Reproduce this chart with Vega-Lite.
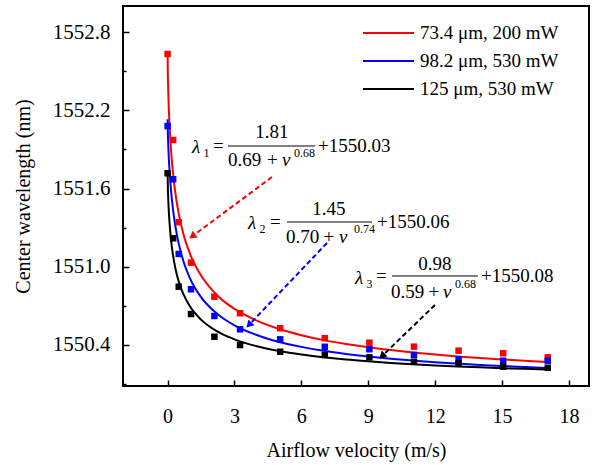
{
  "$schema": "https://vega.github.io/schema/vega-lite/v6.json",
  "width": 466,
  "height": 380,
  "autosize": "none",
  "padding": {"left": 123, "top": 6, "right": 5, "bottom": 79},
  "background": "white",
  "config": {"view": {"stroke": "black", "strokeWidth": 2}, "font": "Liberation Serif"},
  "datasets": {
    "curves": [
      {"s": "73.4 μm, 200 mW", "v": 0, "y": 1552.653}, {"s": "73.4 μm, 200 mW", "v": 0.01, "y": 1552.497}, {"s": "73.4 μm, 200 mW", "v": 0.03, "y": 1552.344}, {"s": "73.4 μm, 200 mW", "v": 0.06, "y": 1552.191}, {"s": "73.4 μm, 200 mW", "v": 0.1, "y": 1552.044}, {"s": "73.4 μm, 200 mW", "v": 0.15, "y": 1551.905}, {"s": "73.4 μm, 200 mW", "v": 0.2, "y": 1551.796}, {"s": "73.4 μm, 200 mW", "v": 0.3, "y": 1551.630}, {"s": "73.4 μm, 200 mW", "v": 0.4, "y": 1551.506}, {"s": "73.4 μm, 200 mW", "v": 0.5, "y": 1551.407}, {"s": "73.4 μm, 200 mW", "v": 0.7, "y": 1551.257}, {"s": "73.4 μm, 200 mW", "v": 1, "y": 1551.101}, {"s": "73.4 μm, 200 mW", "v": 1.5, "y": 1550.932}, {"s": "73.4 μm, 200 mW", "v": 2, "y": 1550.820}, {"s": "73.4 μm, 200 mW", "v": 2.5, "y": 1550.738}, {"s": "73.4 μm, 200 mW", "v": 3, "y": 1550.676}, {"s": "73.4 μm, 200 mW", "v": 4, "y": 1550.586}, {"s": "73.4 μm, 200 mW", "v": 5, "y": 1550.522}, {"s": "73.4 μm, 200 mW", "v": 6, "y": 1550.475}, {"s": "73.4 μm, 200 mW", "v": 7, "y": 1550.437}, {"s": "73.4 μm, 200 mW", "v": 8, "y": 1550.407}, {"s": "73.4 μm, 200 mW", "v": 9, "y": 1550.382}, {"s": "73.4 μm, 200 mW", "v": 10, "y": 1550.361}, {"s": "73.4 μm, 200 mW", "v": 11, "y": 1550.342}, {"s": "73.4 μm, 200 mW", "v": 12, "y": 1550.326}, {"s": "73.4 μm, 200 mW", "v": 13, "y": 1550.312}, {"s": "73.4 μm, 200 mW", "v": 14, "y": 1550.300}, {"s": "73.4 μm, 200 mW", "v": 15, "y": 1550.289}, {"s": "73.4 μm, 200 mW", "v": 16, "y": 1550.279}, {"s": "73.4 μm, 200 mW", "v": 17, "y": 1550.270},
      {"s": "98.2 μm, 530 mW", "v": 0, "y": 1552.131}, {"s": "98.2 μm, 530 mW", "v": 0.01, "y": 1552.038}, {"s": "98.2 μm, 530 mW", "v": 0.03, "y": 1551.932}, {"s": "98.2 μm, 530 mW", "v": 0.06, "y": 1551.818}, {"s": "98.2 μm, 530 mW", "v": 0.1, "y": 1551.704}, {"s": "98.2 μm, 530 mW", "v": 0.15, "y": 1551.593}, {"s": "98.2 μm, 530 mW", "v": 0.2, "y": 1551.504}, {"s": "98.2 μm, 530 mW", "v": 0.3, "y": 1551.366}, {"s": "98.2 μm, 530 mW", "v": 0.4, "y": 1551.261}, {"s": "98.2 μm, 530 mW", "v": 0.5, "y": 1551.177}, {"s": "98.2 μm, 530 mW", "v": 0.7, "y": 1551.048}, {"s": "98.2 μm, 530 mW", "v": 1, "y": 1550.913}, {"s": "98.2 μm, 530 mW", "v": 1.5, "y": 1550.767}, {"s": "98.2 μm, 530 mW", "v": 2, "y": 1550.672}, {"s": "98.2 μm, 530 mW", "v": 2.5, "y": 1550.603}, {"s": "98.2 μm, 530 mW", "v": 3, "y": 1550.551}, {"s": "98.2 μm, 530 mW", "v": 4, "y": 1550.476}, {"s": "98.2 μm, 530 mW", "v": 5, "y": 1550.423}, {"s": "98.2 μm, 530 mW", "v": 6, "y": 1550.385}, {"s": "98.2 μm, 530 mW", "v": 7, "y": 1550.355}, {"s": "98.2 μm, 530 mW", "v": 8, "y": 1550.331}, {"s": "98.2 μm, 530 mW", "v": 9, "y": 1550.311}, {"s": "98.2 μm, 530 mW", "v": 10, "y": 1550.294}, {"s": "98.2 μm, 530 mW", "v": 11, "y": 1550.280}, {"s": "98.2 μm, 530 mW", "v": 12, "y": 1550.267}, {"s": "98.2 μm, 530 mW", "v": 13, "y": 1550.257}, {"s": "98.2 μm, 530 mW", "v": 14, "y": 1550.247}, {"s": "98.2 μm, 530 mW", "v": 15, "y": 1550.239}, {"s": "98.2 μm, 530 mW", "v": 16, "y": 1550.231}, {"s": "98.2 μm, 530 mW", "v": 17, "y": 1550.224},
      {"s": "125 μm, 530 mW", "v": 0, "y": 1551.741}, {"s": "125 μm, 530 mW", "v": 0.01, "y": 1551.627}, {"s": "125 μm, 530 mW", "v": 0.03, "y": 1551.517}, {"s": "125 μm, 530 mW", "v": 0.06, "y": 1551.409}, {"s": "125 μm, 530 mW", "v": 0.1, "y": 1551.307}, {"s": "125 μm, 530 mW", "v": 0.15, "y": 1551.213}, {"s": "125 μm, 530 mW", "v": 0.2, "y": 1551.140}, {"s": "125 μm, 530 mW", "v": 0.3, "y": 1551.031}, {"s": "125 μm, 530 mW", "v": 0.4, "y": 1550.950}, {"s": "125 μm, 530 mW", "v": 0.5, "y": 1550.887}, {"s": "125 μm, 530 mW", "v": 0.7, "y": 1550.793}, {"s": "125 μm, 530 mW", "v": 1, "y": 1550.696}, {"s": "125 μm, 530 mW", "v": 1.5, "y": 1550.594}, {"s": "125 μm, 530 mW", "v": 2, "y": 1550.527}, {"s": "125 μm, 530 mW", "v": 2.5, "y": 1550.479}, {"s": "125 μm, 530 mW", "v": 3, "y": 1550.443}, {"s": "125 μm, 530 mW", "v": 4, "y": 1550.390}, {"s": "125 μm, 530 mW", "v": 5, "y": 1550.354}, {"s": "125 μm, 530 mW", "v": 6, "y": 1550.327}, {"s": "125 μm, 530 mW", "v": 7, "y": 1550.306}, {"s": "125 μm, 530 mW", "v": 8, "y": 1550.288}, {"s": "125 μm, 530 mW", "v": 9, "y": 1550.274}, {"s": "125 μm, 530 mW", "v": 10, "y": 1550.262}, {"s": "125 μm, 530 mW", "v": 11, "y": 1550.252}, {"s": "125 μm, 530 mW", "v": 12, "y": 1550.243}, {"s": "125 μm, 530 mW", "v": 13, "y": 1550.235}, {"s": "125 μm, 530 mW", "v": 14, "y": 1550.228}, {"s": "125 μm, 530 mW", "v": 15, "y": 1550.222}, {"s": "125 μm, 530 mW", "v": 16, "y": 1550.217}, {"s": "125 μm, 530 mW", "v": 17, "y": 1550.211}
    ],
    "pts": [
      {"s": "73.4 μm, 200 mW", "v": 0, "y": 1552.632}, {"s": "73.4 μm, 200 mW", "v": 0.25, "y": 1551.972}, {"s": "73.4 μm, 200 mW", "v": 0.5, "y": 1551.341}, {"s": "73.4 μm, 200 mW", "v": 1.05, "y": 1551.031}, {"s": "73.4 μm, 200 mW", "v": 2.1, "y": 1550.770}, {"s": "73.4 μm, 200 mW", "v": 3.25, "y": 1550.643}, {"s": "73.4 μm, 200 mW", "v": 5.05, "y": 1550.528}, {"s": "73.4 μm, 200 mW", "v": 7.05, "y": 1550.452}, {"s": "73.4 μm, 200 mW", "v": 9.05, "y": 1550.417}, {"s": "73.4 μm, 200 mW", "v": 11.05, "y": 1550.387}, {"s": "73.4 μm, 200 mW", "v": 13.05, "y": 1550.356}, {"s": "73.4 μm, 200 mW", "v": 15.05, "y": 1550.336}, {"s": "73.4 μm, 200 mW", "v": 17.05, "y": 1550.305},
      {"s": "98.2 μm, 530 mW", "v": 0, "y": 1552.079}, {"s": "98.2 μm, 530 mW", "v": 0.25, "y": 1551.671}, {"s": "98.2 μm, 530 mW", "v": 0.5, "y": 1551.098}, {"s": "98.2 μm, 530 mW", "v": 1.05, "y": 1550.827}, {"s": "98.2 μm, 530 mW", "v": 2.1, "y": 1550.622}, {"s": "98.2 μm, 530 mW", "v": 3.25, "y": 1550.520}, {"s": "98.2 μm, 530 mW", "v": 5.05, "y": 1550.443}, {"s": "98.2 μm, 530 mW", "v": 7.05, "y": 1550.386}, {"s": "98.2 μm, 530 mW", "v": 9.05, "y": 1550.367}, {"s": "98.2 μm, 530 mW", "v": 11.05, "y": 1550.323}, {"s": "98.2 μm, 530 mW", "v": 13.05, "y": 1550.290}, {"s": "98.2 μm, 530 mW", "v": 15.05, "y": 1550.279}, {"s": "98.2 μm, 530 mW", "v": 17.05, "y": 1550.279},
      {"s": "125 μm, 530 mW", "v": 0, "y": 1551.717}, {"s": "125 μm, 530 mW", "v": 0.25, "y": 1551.218}, {"s": "125 μm, 530 mW", "v": 0.5, "y": 1550.847}, {"s": "125 μm, 530 mW", "v": 1.05, "y": 1550.637}, {"s": "125 μm, 530 mW", "v": 2.1, "y": 1550.463}, {"s": "125 μm, 530 mW", "v": 3.25, "y": 1550.399}, {"s": "125 μm, 530 mW", "v": 5.05, "y": 1550.348}, {"s": "125 μm, 530 mW", "v": 7.05, "y": 1550.323}, {"s": "125 μm, 530 mW", "v": 9.05, "y": 1550.305}, {"s": "125 μm, 530 mW", "v": 11.05, "y": 1550.271}, {"s": "125 μm, 530 mW", "v": 13.05, "y": 1550.259}, {"s": "125 μm, 530 mW", "v": 15.05, "y": 1550.233}, {"s": "125 μm, 530 mW", "v": 17.05, "y": 1550.225}
    ],
    "arrows": [
      {"s": "73.4 μm, 200 mW", "x": 4.682, "y": 1551.688, "x2": 1.148, "y2": 1551.239},
      {"s": "98.2 μm, 530 mW", "x": 7.148, "y": 1551.182, "x2": 3.686, "y2": 1550.560},
      {"s": "125 μm, 530 mW", "x": 11.991, "y": 1550.706, "x2": 9.655, "y2": 1550.321}
    ],
    "eqn": [
      {"x": 2.036, "y": 1551.880, "t": "="}, {"x": 6.744, "y": 1551.880, "t": "+1550.03"}, {"x": 2.709, "y": 1551.773, "t": "0.69"}, {"x": 4.458, "y": 1551.773, "t": "+"},
      {"x": 4.592, "y": 1551.297, "t": "="}, {"x": 9.390, "y": 1551.297, "t": "+1550.06"}, {"x": 5.309, "y": 1551.182, "t": "0.70"}, {"x": 6.990, "y": 1551.182, "t": "+"},
      {"x": 9.345, "y": 1550.883, "t": "="}, {"x": 14.054, "y": 1550.883, "t": "+1550.08"}, {"x": 10.018, "y": 1550.760, "t": "0.59"}, {"x": 11.700, "y": 1550.760, "t": "+"}
    ],
    "num": [
      {"x": 4.682, "y": 1551.987, "t": "1.81"}, {"x": 7.238, "y": 1551.397, "t": "1.45"}, {"x": 11.991, "y": 1550.975, "t": "0.98"}
    ],
    "ital": [
      {"x": 1.094, "y": 1551.872, "t": "λ"}, {"x": 5.130, "y": 1551.773, "t": "v"},
      {"x": 3.605, "y": 1551.289, "t": "λ"}, {"x": 7.686, "y": 1551.182, "t": "v"},
      {"x": 8.404, "y": 1550.867, "t": "λ"}, {"x": 12.350, "y": 1550.760, "t": "v"}
    ],
    "small": [
      {"x": 1.610, "y": 1551.842, "t": "1"}, {"x": 5.668, "y": 1551.842, "t": "0.68"},
      {"x": 4.121, "y": 1551.259, "t": "2"}, {"x": 8.359, "y": 1551.259, "t": "0.74"},
      {"x": 8.919, "y": 1550.837, "t": "3"}, {"x": 12.888, "y": 1550.837, "t": "0.68"}
    ],
    "bars": [
      {"x": 2.709, "x2": 6.610, "y": 1551.926},
      {"x": 5.355, "x2": 9.166, "y": 1551.343},
      {"x": 10.063, "x2": 13.919, "y": 1550.929}
    ]
  },
  "layer": [
    {
      "data": {"name": "curves"},
      "mark": {"type": "line", "strokeWidth": 2, "interpolate": "monotone"},
      "encoding": {
        "x": {
          "field": "v", "type": "quantitative",
          "scale": {"domain": [-2, 18.9], "nice": false, "zero": false},
          "axis": {
            "values": [0, 3, 6, 9, 12, 15, 18],
            "format": "d",
            "tickSize": -6,
            "tickColor": "black", "tickWidth": 1.5, "domain": false, "grid": false,
            "labelFont": "Liberation Serif", "labelFontSize": 20, "labelColor": "black", "labelPadding": 26, "labelFlush": false, "labelOverlap": false,
            "title": "Airflow velocity (m/s)", "titleFont": "Liberation Serif", "titleFontSize": 20, "titleFontWeight": "normal", "titleColor": "black", "titlePadding": 14
          }
        },
        "y": {
          "field": "y", "type": "quantitative",
          "scale": {"domain": [1550.085, 1553.0], "nice": false, "zero": false},
          "axis": {
            "values": [1550.1, 1550.4, 1550.7, 1551.0, 1551.3, 1551.6, 1551.9, 1552.2, 1552.5, 1552.8],
            "labelExpr": "round(datum.value*10)%6==0 ? format(datum.value, '.1f') : ''",
            "tickSize": -6,
            "tickDash": {"condition": {"test": "round(datum.value*10)%6==0", "value": [6, 0]}, "value": [3, 20]},
            "tickColor": "black", "tickWidth": 1.5, "domain": false, "grid": false,
            "labelFont": "Liberation Serif", "labelFontSize": 21, "labelColor": "black", "labelPadding": 19, "labelFlush": false, "labelOverlap": false,
            "title": "Center wavelength (nm)", "titleFont": "Liberation Serif", "titleFontSize": 20, "titleFontWeight": "normal", "titleColor": "black", "titlePadding": 19
          }
        },
        "color": {
          "field": "s", "type": "nominal",
          "scale": {"domain": ["73.4 μm, 200 mW", "98.2 μm, 530 mW", "125 μm, 530 mW"], "range": ["#ff0000", "#0000ff", "#000000"]},
          "legend": {
            "orient": "none", "legendX": 239, "legendY": 17, "title": null,
            "symbolType": "stroke", "symbolSize": 2601, "symbolStrokeWidth": 2, "clipHeight": 20,
            "labelFont": "Liberation Serif", "labelFontSize": 19, "labelColor": "black", "rowPadding": 8, "labelOffset": 5
          }
        }
      }
    },
    {
      "data": {"name": "pts"},
      "mark": {"type": "point", "shape": "square", "filled": true, "size": 42, "opacity": 1, "strokeWidth": 0},
      "encoding": {
        "x": {"field": "v", "type": "quantitative"},
        "y": {"field": "y", "type": "quantitative"},
        "fill": {
          "field": "s", "type": "nominal",
          "scale": {"domain": ["73.4 μm, 200 mW", "98.2 μm, 530 mW", "125 μm, 530 mW"], "range": ["#ff0000", "#0000ff", "#000000"]},
          "legend": null
        }
      }
    },
    {
      "data": {"name": "arrows"},
      "mark": {"type": "rule", "strokeWidth": 2, "strokeDash": [5, 3]},
      "encoding": {
        "x": {"field": "x", "type": "quantitative"},
        "y": {"field": "y", "type": "quantitative"},
        "x2": {"field": "x2"},
        "y2": {"field": "y2"},
        "stroke": {
          "field": "s", "type": "nominal",
          "scale": {"domain": ["73.4 μm, 200 mW", "98.2 μm, 530 mW", "125 μm, 530 mW"], "range": ["#ff0000", "#0000ff", "#000000"]},
          "legend": null
        }
      }
    },
    {
      "data": {"name": "arrows"},
      "transform": [{"filter": "datum.s == '73.4 μm, 200 mW'"}],
      "mark": {"type": "point", "shape": "triangle", "filled": true, "size": 70, "angle": 233, "color": "#ff0000", "opacity": 1},
      "encoding": {
        "x": {"field": "x2", "type": "quantitative"},
        "y": {"field": "y2", "type": "quantitative"}
      }
    },
    {
      "data": {"name": "arrows"},
      "transform": [{"filter": "datum.s == '98.2 μm, 530 mW'"}],
      "mark": {"type": "point", "shape": "triangle", "filled": true, "size": 70, "angle": 224, "color": "#0000ff", "opacity": 1},
      "encoding": {
        "x": {"field": "x2", "type": "quantitative"},
        "y": {"field": "y2", "type": "quantitative"}
      }
    },
    {
      "data": {"name": "arrows"},
      "transform": [{"filter": "datum.s == '125 μm, 530 mW'"}],
      "mark": {"type": "point", "shape": "triangle", "filled": true, "size": 70, "angle": 226, "color": "#000000", "opacity": 1},
      "encoding": {
        "x": {"field": "x2", "type": "quantitative"},
        "y": {"field": "y2", "type": "quantitative"}
      }
    },
    {
      "data": {"name": "bars"},
      "mark": {"type": "rule", "strokeWidth": 1, "color": "black"},
      "encoding": {
        "x": {"field": "x", "type": "quantitative"},
        "x2": {"field": "x2"},
        "y": {"field": "y", "type": "quantitative"}
      }
    },
    {
      "data": {"name": "eqn"},
      "mark": {"type": "text", "font": "Liberation Serif", "fontSize": 19, "align": "left", "baseline": "alphabetic", "color": "black"},
      "encoding": {
        "x": {"field": "x", "type": "quantitative"},
        "y": {"field": "y", "type": "quantitative"},
        "text": {"field": "t"}
      }
    },
    {
      "data": {"name": "num"},
      "mark": {"type": "text", "font": "Liberation Serif", "fontSize": 19, "align": "center", "baseline": "alphabetic", "color": "black"},
      "encoding": {
        "x": {"field": "x", "type": "quantitative"},
        "y": {"field": "y", "type": "quantitative"},
        "text": {"field": "t"}
      }
    },
    {
      "data": {"name": "ital"},
      "mark": {"type": "text", "font": "Liberation Serif", "fontSize": 19, "fontStyle": "italic", "align": "left", "baseline": "alphabetic", "color": "black"},
      "encoding": {
        "x": {"field": "x", "type": "quantitative"},
        "y": {"field": "y", "type": "quantitative"},
        "text": {"field": "t"}
      }
    },
    {
      "data": {"name": "small"},
      "mark": {"type": "text", "font": "Liberation Serif", "fontSize": 12, "align": "left", "baseline": "alphabetic", "color": "black"},
      "encoding": {
        "x": {"field": "x", "type": "quantitative"},
        "y": {"field": "y", "type": "quantitative"},
        "text": {"field": "t"}
      }
    }
  ]
}
